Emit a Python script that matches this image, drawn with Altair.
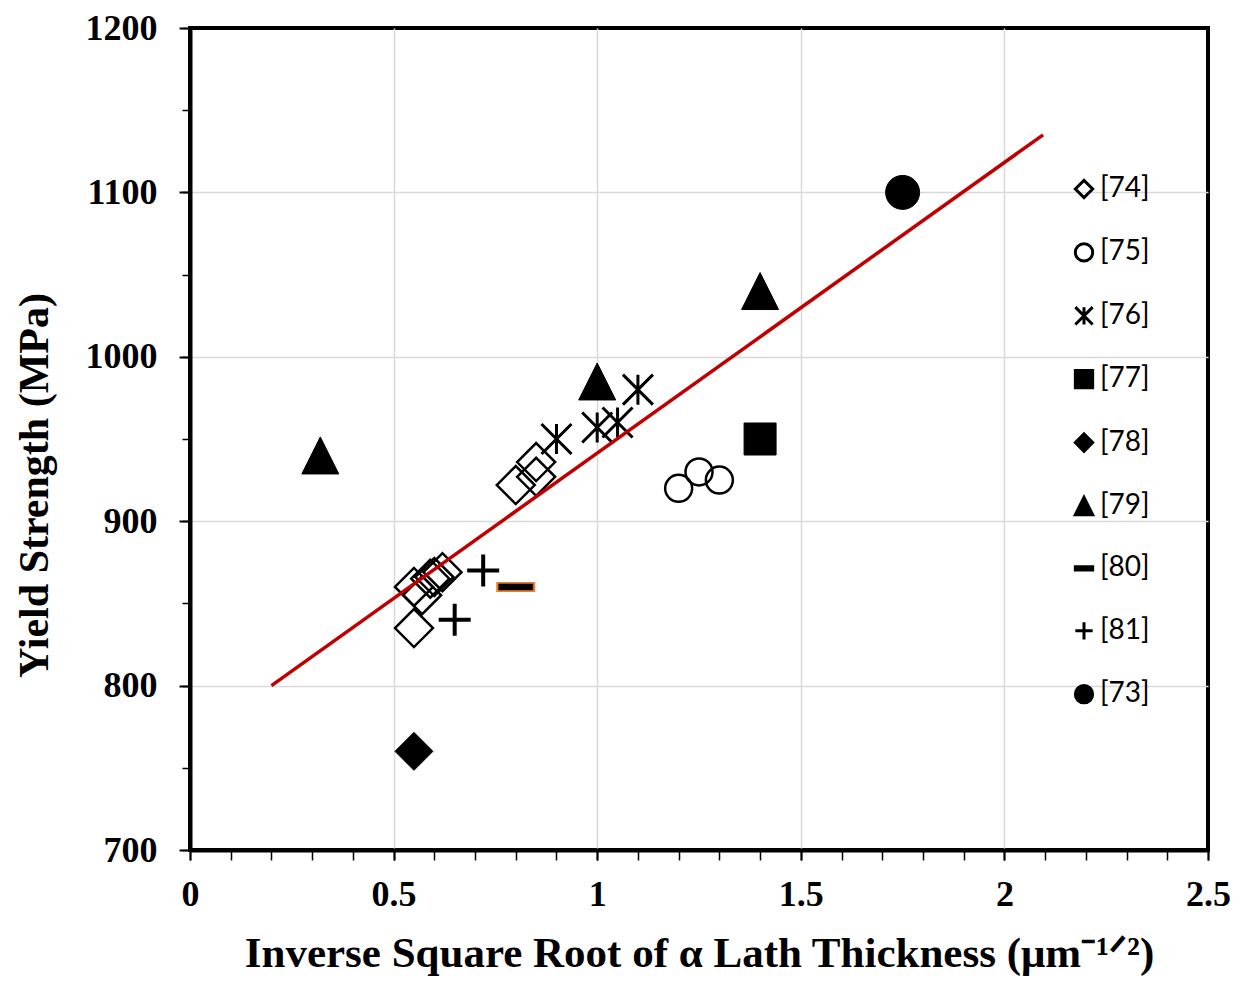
import altair as alt
import pandas as pd

refs = ["[74]", "[75]", "[76]", "[77]", "[78]", "[79]", "[80]", "[81]", "[73]"]

x74 = [0.55, 0.57, 0.59, 0.60, 0.62, 0.55, 0.80, 0.85, 0.85]
y74 = [860, 855, 865, 866, 869, 835, 922, 936, 927]
x75 = [1.20, 1.25, 1.30]
y75 = [920, 930, 925]
x76 = [0.90, 1.00, 1.05, 1.10]
y76 = [950, 957, 960, 980]
x77 = [1.40]
y77 = [950]
x78 = [0.55]
y78 = [760]
x79 = [0.32, 1.00, 1.40]
y79 = [940, 985, 1040]
x80 = [0.80]
y80 = [860]
x81 = [0.72, 0.65]
y81 = [870, 840]
x73 = [1.75]
y73 = [1100]

fit_x = [0.20, 2.095]
fit_y = [800, 1135]

x_major = [0, 0.5, 1, 1.5, 2, 2.5]
x_minor = [round(0.1 * k, 1) for k in range(26)]
y_major = [700, 800, 900, 1000, 1100, 1200]
y_minor = list(range(700, 1201, 50))

ASTER = "M-1,-1L1,1M-1,1L1,-1M0,-1L0,1"
TRI = "M0,-1L1,1L-1,1Z"
DASH = "M-1,-0.18L1,-0.18L1,0.18L-1,0.18Z"
DASH_OUT = "M-1,-0.26L1,-0.26L1,0.26L-1,0.26Z"
PLUS = "M-1,0L1,0M0,-1L0,1"

shapes = ["diamond", "circle", ASTER, "square", "diamond", TRI, DASH, PLUS, "circle"]
fills = ["transparent", "transparent", "transparent", "black", "black", "black", "black", "transparent", "black"]
strokes = ["black"] * 9

series = {
    "[74]": (x74, y74, 1444, 2.5),
    "[75]": (x75, y75, 729, 2.5),
    "[76]": (x76, y76, 900, 3),
    "[77]": (x77, y77, 1024, 1),
    "[78]": (x78, y78, 1444, 1),
    "[79]": (x79, y79, 1369, 1),
    "[80]": (x80, y80, 1156, 0.5),
    "[81]": (x81, y81, 1024, 4),
    "[73]": (x73, y73, 1156, 1),
}

xs = alt.Scale(domain=[0, 2.5], nice=False, zero=False)
ys = alt.Scale(domain=[700, 1200], nice=False, zero=False)

SERIF = "Liberation Serif"

major_x = alt.Axis(
    values=x_major, format="~g", orient="bottom",
    title="Inverse Square Root of α Lath Thickness (μm⁻¹ᐟ²)",
    grid=True,
    gridColor={"condition": {"test": "datum.value <= 0 || datum.value >= 2.5", "value": "transparent"}, "value": "#d9d9d9"},
    gridWidth=1.5,
    domainColor="black", domainWidth=4,
    tickColor="black", tickWidth=2, tickSize=10,
    labelFont=SERIF, labelFontWeight="bold", labelFontSize=36, labelColor="black",
    labelPadding=17, labelFlush=False, labelOverlap=False,
    titleFont=SERIF, titleFontWeight="bold", titleFontSize=43, titleColor="black",
    titleY=116, titleBaseline="alphabetic",
)
major_y = alt.Axis(
    values=y_major, format="d", orient="left",
    title="Yield Strength (MPa)",
    grid=True,
    gridColor={"condition": {"test": "datum.value <= 700 || datum.value >= 1200", "value": "transparent"}, "value": "#d9d9d9"},
    gridWidth=1.5,
    domainColor="black", domainWidth=4,
    tickColor="black", tickWidth=2, tickSize=11,
    labelFont=SERIF, labelFontWeight="bold", labelFontSize=36, labelColor="black",
    labelPadding=22, labelFlush=False, labelOverlap=False,
    titleFont=SERIF, titleFontWeight="bold", titleFontSize=42, titleColor="black",
    titleX=-143, titleY=457, titleAngle=-90, titleAlign="center", titleBaseline="alphabetic",
)
minor_x = alt.Axis(
    values=x_minor, orient="bottom", labels=False, domain=False, grid=False,
    tickColor="black", tickWidth=1.5, tickSize=10, title=None,
)
minor_y = alt.Axis(
    values=y_minor, orient="left", labels=False, domain=False, grid=False,
    tickColor="black", tickWidth=1.5, tickSize=8, title=None,
)

leg = alt.Legend(
    title=None, orient="none", legendX=880, legendY=147, direction="vertical",
    rowPadding=33.4, labelFont="Lato", labelFontSize=28, labelColor="black",
    symbolSize=300, symbolStrokeWidth=3, labelOffset=2, padding=0,
)

shape_scale = alt.Scale(domain=refs, range=shapes)
fill_scale = alt.Scale(domain=refs, range=fills)
stroke_scale = alt.Scale(domain=refs, range=strokes)

layers = []

# orange outline under the [80] dash
df80 = pd.DataFrame({"x": x80, "y": y80})
layers.append(
    alt.Chart(df80).mark_point(filled=True).encode(
        x=alt.X("x:Q", scale=xs, axis=None),
        y=alt.Y("y:Q", scale=ys, axis=None),
        shape=alt.value(DASH_OUT),
        fill=alt.value("#ED7D31"),
        size=alt.value(1521),
        opacity=alt.value(1),
    )
)

first = True
for ref in refs:
    xv, yv, size, sw = series[ref]
    df = pd.DataFrame({"x": xv, "y": yv, "ref": [ref] * len(xv)})
    layers.append(
        alt.Chart(df).mark_point().encode(
            x=alt.X("x:Q", scale=xs, axis=major_x if first else None),
            y=alt.Y("y:Q", scale=ys, axis=major_y if first else None),
            shape=alt.Shape("ref:N", scale=shape_scale, legend=leg),
            fill=alt.Fill("ref:N", scale=fill_scale, legend=leg),
            stroke=alt.Stroke("ref:N", scale=stroke_scale, legend=leg),
            size=alt.value(size),
            strokeWidth=alt.value(sw),
            opacity=alt.value(1),
        )
    )
    first = False

fit_df = pd.DataFrame({"x": fit_x, "y": fit_y})
layers.append(
    alt.Chart(fit_df).mark_line(color="#C00000", strokeWidth=3.5).encode(
        x=alt.X("x:Q", scale=xs, axis=minor_x),
        y=alt.Y("y:Q", scale=ys, axis=minor_y),
    )
)

chart = (
    alt.layer(*layers)
    .resolve_axis(x="independent", y="independent")
    .properties(
        width=1018, height=822,
        padding={"left": 182, "top": 20, "right": 27, "bottom": 130},
        autosize=alt.AutoSizeParams(type="none"),
        background="white",
    )
    .configure_view(stroke="black", strokeWidth=4)
)

chart.save("out.html", embed_options={"renderer": "svg", "actions": False})
